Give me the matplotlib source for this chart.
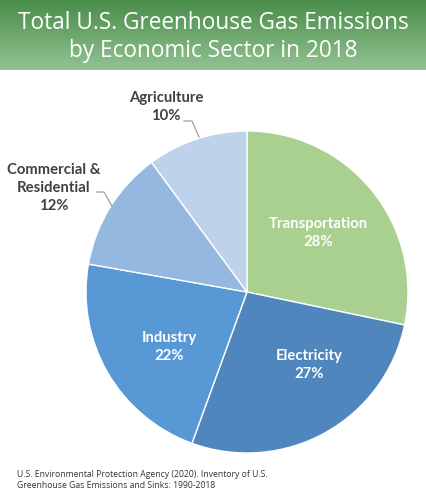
import matplotlib
matplotlib.use("Agg")
import matplotlib.pyplot as plt
import numpy as np

sectors = ["Transportation", "Electricity", "Industry", "Commercial &\nResidential", "Agriculture"]
shares = [28, 27, 22, 12, 10]
colors = ["#a9d08e", "#4f86be", "#5898d4", "#95b8e0", "#bfd2ec"]

title = "Total U.S. Greenhouse Gas Emissions\nby Economic Sector in 2018"
source = "U.S. Environmental Protection Agency (2020). Inventory of U.S.\nGreenhouse Gas Emissions and Sinks: 1990-2018"

W, H = 426, 502
fig = plt.figure(figsize=(W / 100, H / 100), dpi=100)

# Pie axes (drawn first, underneath)
cx, cy, r = 247, 293, 161
pax = fig.add_axes([(cx - r) / W, 1 - (cy + r) / H, 2 * r / W, 2 * r / H])
wedges, _ = pax.pie(shares, colors=colors, startangle=90, counterclock=False,
                    wedgeprops=dict(edgecolor="white", linewidth=1.0))
pax.set_aspect("equal")
pax.set_xlim(-1, 1)
pax.set_ylim(-1, 1)
pax.axis("off")

# Overlay axes in pixel coordinates
ax = fig.add_axes([0, 0, 1, 1], facecolor="none")
ax.axis("off")

# Title banner gradient
grad = np.linspace(0, 1, 256).reshape(-1, 1)
top = np.array([0x48, 0x8c, 0x48]) / 255
bot = np.array([0x93, 0xc2, 0x93]) / 255
img = (top + (bot - top) * grad[..., None]).reshape(256, 1, 3)
ax.imshow(img, extent=[0, W, 71, 0], aspect="auto", zorder=0)
ax.set_xlim(0, W)
ax.set_ylim(H, 0)
ax.text(W / 2, 37, title, ha="center", va="center", color="white",
        fontsize=16.3, family="Open Sans", linespacing=1.2, zorder=3)

fs = 10.7
fam = "Lato"
inside = {
    "Transportation": (318, 233),
    "Electricity": (309, 365),
    "Industry": (169, 347),
}
for i, name in enumerate(sectors[:3]):
    x, y = inside[name]
    ax.text(x, y, f"{name}\n{shares[i]}%", ha="center", va="center",
            color="white", fontsize=fs, fontweight="bold", family=fam,
            linespacing=1.35, zorder=5)

ax.text(54, 188, f"{sectors[3]}\n{shares[3]}%", ha="center", va="center",
        color="#404040", fontsize=fs, fontweight="bold", family=fam,
        linespacing=1.35, zorder=5)
ax.text(166, 107, f"{sectors[4]}\n{shares[4]}%", ha="center", va="center",
        color="#404040", fontsize=fs, fontweight="bold", family=fam,
        linespacing=1.35, zorder=5)

# Leader lines
ax.plot([184, 192, 199], [122, 122, 138], color="#a0a0a0", lw=0.9, zorder=4)
ax.plot([97, 104, 112], [193, 193, 207], color="#a0a0a0", lw=0.9, zorder=4)

ax.text(17, 480, source, ha="left", va="center", color="#333333",
        fontsize=6.2, family="Open Sans", linespacing=1.3)

fig.savefig("out.png", dpi=100)
